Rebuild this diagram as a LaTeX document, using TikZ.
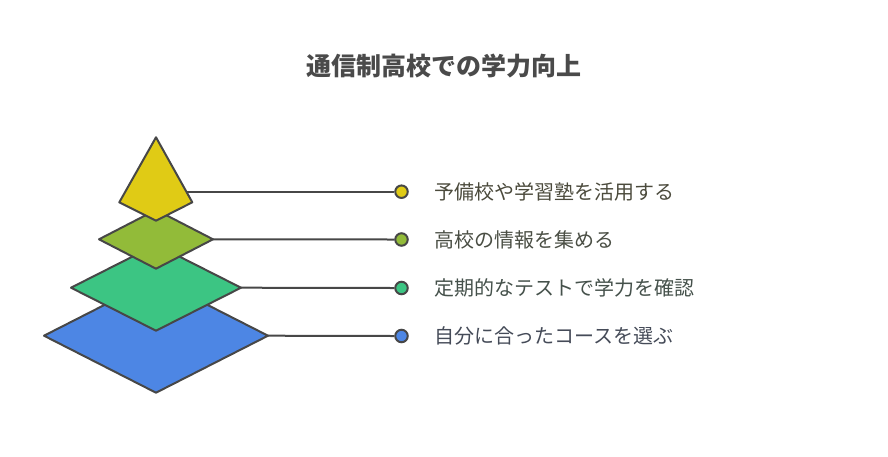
\documentclass[tikz,border=0pt]{standalone}
\usepackage{fontspec}
\setmainfont{Noto Sans CJK JP}
\newfontfamily\cjk{Noto Sans CJK JP}
\definecolor{edge}{HTML}{474747}
\definecolor{cYel}{HTML}{E0CB15}
\definecolor{cOli}{HTML}{92BB39}
\definecolor{cTea}{HTML}{3CC583}
\definecolor{cBlu}{HTML}{4D86E4}
\definecolor{tYel}{HTML}{4B4A3C}
\definecolor{tOli}{HTML}{4A4E44}
\definecolor{tTea}{HTML}{45514B}
\definecolor{tBlu}{HTML}{454B58}
\definecolor{titlec}{HTML}{4A4A4A}
\tikzset{
  layer/.style={draw=edge, line width=2pt, line join=round},
  link/.style={draw=edge, line width=2pt},
  dotnode/.style={circle, draw=edge, line width=2pt, minimum size=12.5pt, inner sep=0pt},
  label/.style={anchor=base west, inner sep=0pt, font=\cjk\fontsize{20}{24}\selectfont},
}
\begin{document}
\begin{tikzpicture}[x=1pt,y=-1pt]
\useasboundingbox (0,0) rectangle (888,456);
% title
\node[anchor=base, inner sep=0pt, text=titlec, font=\cjk\bfseries\fontsize{25}{30}\selectfont] (title) at (444,75.5) {通信制高校での学力向上};
% layers
\draw[layer, fill=cBlu] (156,278.7) -- (268,335.7) coordinate (rB) -- (156,392.7) -- (44,335.7) -- cycle;
\draw[layer, fill=cTea] (156,244.7) -- (241,287.7) coordinate (rT) -- (156,330.7) -- (71,287.7) -- cycle;
\draw[layer, fill=cOli] (156,209.9) -- (213,239.3) coordinate (rO) -- (156,268.7) -- (99,239.3) -- cycle;
\draw[layer, fill=cYel] (156,137.3) -- (192.3,202.3) -- (156,220.7) -- (119.3,202.3) -- cycle;
\coordinate (rY) at (186.4,191.7);
% dots
\node[dotnode, fill=cYel] (dY) at (401.5,191.7) {};
\node[dotnode, fill=cOli] (dO) at (401.5,239.5) {};
\node[dotnode, fill=cTea] (dT) at (401.5,288) {};
\node[dotnode, fill=cBlu] (dB) at (401.5,336) {};
% links
\draw[link] (rY) -- (dY.west);
\draw[link] (rO) -- (dO.west);
\draw[link] (rT) -- (dT.west);
\draw[link] (rB) -- (dB.west);
% labels
\node[label, text=tYel] (lY) at (434,199.3) {予備校や学習塾を活用する};
\node[label, text=tOli] (lO) at (434,247.3) {高校の情報を集める};
\node[label, text=tTea] (lT) at (434,295.8) {定期的なテストで学力を確認};
\node[label, text=tBlu] (lB) at (434,343.8) {自分に合ったコースを選ぶ};
\end{tikzpicture}
\end{document}
